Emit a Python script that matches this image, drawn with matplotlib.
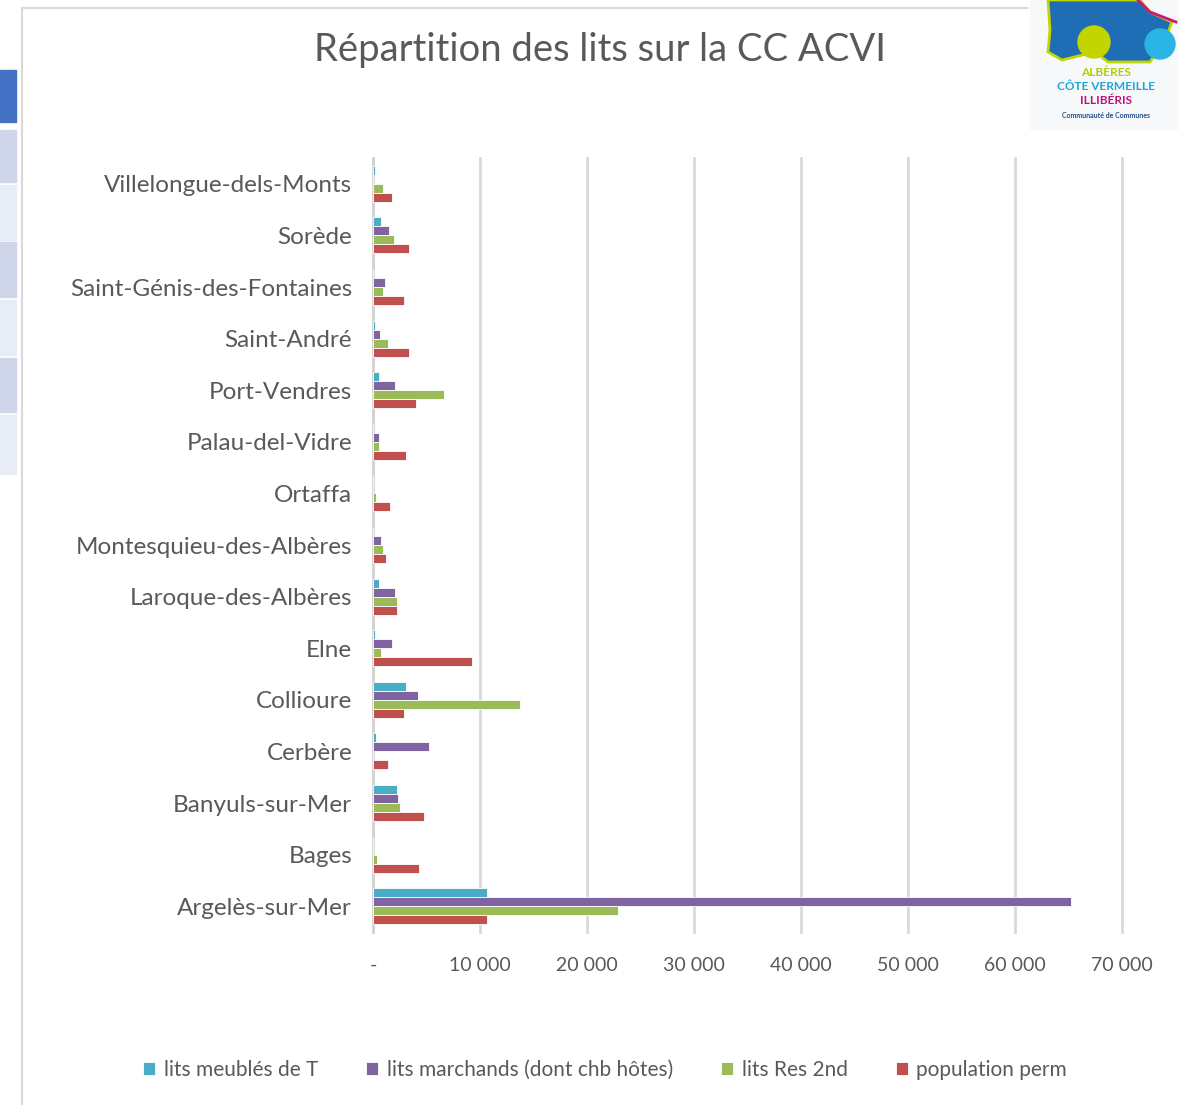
import matplotlib
matplotlib.use("Agg")
import matplotlib.pyplot as plt
from matplotlib.patches import Rectangle, Circle, Polygon
import numpy as np

plt.rcParams['font.family'] = ['Lato', 'DejaVu Sans']

communes = ["Argelès-sur-Mer", "Bages", "Banyuls-sur-Mer", "Cerbère", "Collioure",
            "Elne", "Laroque-des-Albères", "Montesquieu-des-Albères", "Ortaffa",
            "Palau-del-Vidre", "Port-Vendres", "Saint-André", "Saint-Génis-des-Fontaines",
            "Sorède", "Villelongue-dels-Monts"]
series_names = ["lits meublés de T", "lits marchands (dont chb hôtes)", "lits Res 2nd", "population perm"]
meubles = [10650, 0, 2200, 320, 3110, 200, 540, 0, 0, 0, 540, 200, 0, 750, 200]
marchands = [65200, 0, 2330, 5250, 4190, 1730, 2075, 790, 0, 540, 2075, 660, 1130, 1480, 0]
res2nd = [22900, 410, 2550, 0, 13710, 790, 2200, 890, 280, 540, 6640, 1360, 890, 1950, 890]
population = [10690, 4310, 4780, 1360, 2870, 9240, 2200, 1260, 1600, 3110, 4060, 3370, 2870, 3370, 1730]
xticks_vals = [0, 10000, 20000, 30000, 40000, 50000, 60000, 70000]
xtick_labels = ["-", "10 000", "20 000", "30 000", "40 000", "50 000", "60 000", "70 000"]
colors = ["#4BACC6", "#8064A2", "#9BBB59", "#C0504D"]

W, H = 1178, 1105
fig = plt.figure(figsize=(W / 100, H / 100), dpi=100)
fig.patch.set_facecolor("white")

# left sidebar strips (screen UI)
strips = [(70, 122, "#4472C4"), (130, 182, "#CFD6EA"), (185, 240, "#E8ECF5"),
          (242, 297, "#CFD6EA"), (300, 355, "#E8ECF5"), (358, 412, "#CFD6EA"),
          (415, 474, "#E8ECF5")]
for y0, y1, c in strips:
    fig.patches.append(Rectangle((0, 1 - y1 / H), 16 / W, (y1 - y0) / H,
                                 transform=fig.transFigure, color=c, zorder=0))
# chart area border
fig.add_artist(plt.Line2D([22 / W, 22 / W], [0, 1 - 8 / H], transform=fig.transFigure,
                          color="#D9D9D9", lw=1.5))
fig.add_artist(plt.Line2D([22 / W, 1027 / W], [1 - 8 / H, 1 - 8 / H], transform=fig.transFigure,
                          color="#D9D9D9", lw=1.5))

ax = fig.add_axes([373 / W, 1 - 932 / H, (1122 - 373) / W, (932 - 158) / H])
y = np.arange(len(communes))
h = 0.175
data = [meubles, marchands, res2nd, population]
offsets = [1.5 * h, 0.5 * h, -0.5 * h, -1.5 * h]
for vals, off, c, name in zip(data, offsets, colors, series_names):
    ax.barh(y + off, vals, height=h, color=c, edgecolor="white", linewidth=0.6,
            label=name, zorder=3)

ax.set_xlim(0, 70000)
ax.set_ylim(-0.5, len(communes) - 0.5)
ax.set_xticks(xticks_vals)
ax.set_xticklabels(xtick_labels, fontsize=14, color="#595959")
ax.set_yticks(y)
ax.set_yticklabels(communes, fontsize=17.5, color="#595959")
ax.tick_params(axis="both", length=0)
ax.tick_params(axis="y", pad=15)
ax.tick_params(axis="x", pad=18)
for s in ["top", "right", "bottom"]:
    ax.spines[s].set_visible(False)
ax.spines["left"].set_color("#D0D0D0")
ax.spines["left"].set_linewidth(2)
for xv in xticks_vals[1:]:
    ax.axvline(xv, color="#D9D9D9", lw=2, zorder=1, clip_on=False)

fig.text(600 / W, 1 - 50 / H, "Répartition des lits sur la CC ACVI", ha="center", va="center",
         fontsize=27.5, color="#595959")

handles, labels = ax.get_legend_handles_labels()
leg = fig.legend(handles, labels, loc="center", bbox_to_anchor=(605 / W, 1 - 1070 / H),
                 ncol=4, frameon=False, fontsize=15, handlelength=0.6, handleheight=0.6,
                 handletextpad=0.4, columnspacing=2.3)
for t in leg.get_texts():
    t.set_color("#595959")

# logo approximation
lx = fig.add_axes([1030 / W, 1 - 130 / H, 148 / W, 130 / H])
lx.set_xlim(1030, 1178)
lx.set_ylim(130, 0)
lx.axis("off")
lx.add_patch(Rectangle((1030, 0), 148, 130, color="#F7F8FA", zorder=0))
lx.add_patch(Polygon([(1048, 0), (1140, 0), (1150, 12), (1172, 22), (1165, 40), (1150, 62),
                      (1108, 62), (1095, 52), (1062, 60), (1048, 52), (1050, 30)],
                     closed=True, facecolor="#1F6DB5", edgecolor="#C3D500", lw=2, zorder=1))
lx.plot([1138, 1150, 1176], [0, 12, 22], color="#D4137F", lw=2, zorder=2)
lx.add_patch(Circle((1094, 42), 16, color="#C3D500", zorder=3))
lx.add_patch(Circle((1160, 44), 15, color="#2AB5E6", zorder=3))
lx.text(1106, 72, "ALBÈRES", ha="center", va="center", fontsize=8.5, color="#B5CC00",
        fontweight="bold")
lx.text(1106, 86, "CÔTE VERMEILLE", ha="center", va="center", fontsize=8.5, color="#1BA6D9",
        fontweight="bold")
lx.text(1106, 101, "ILLIBÉRIS", ha="center", va="center", fontsize=8.5, color="#C0147F",
        fontweight="bold")
lx.text(1106, 116, "Communauté de Communes", ha="center", va="center", fontsize=5,
        color="#1F4E8C", fontweight="bold")

fig.savefig("out.png", dpi=100)
